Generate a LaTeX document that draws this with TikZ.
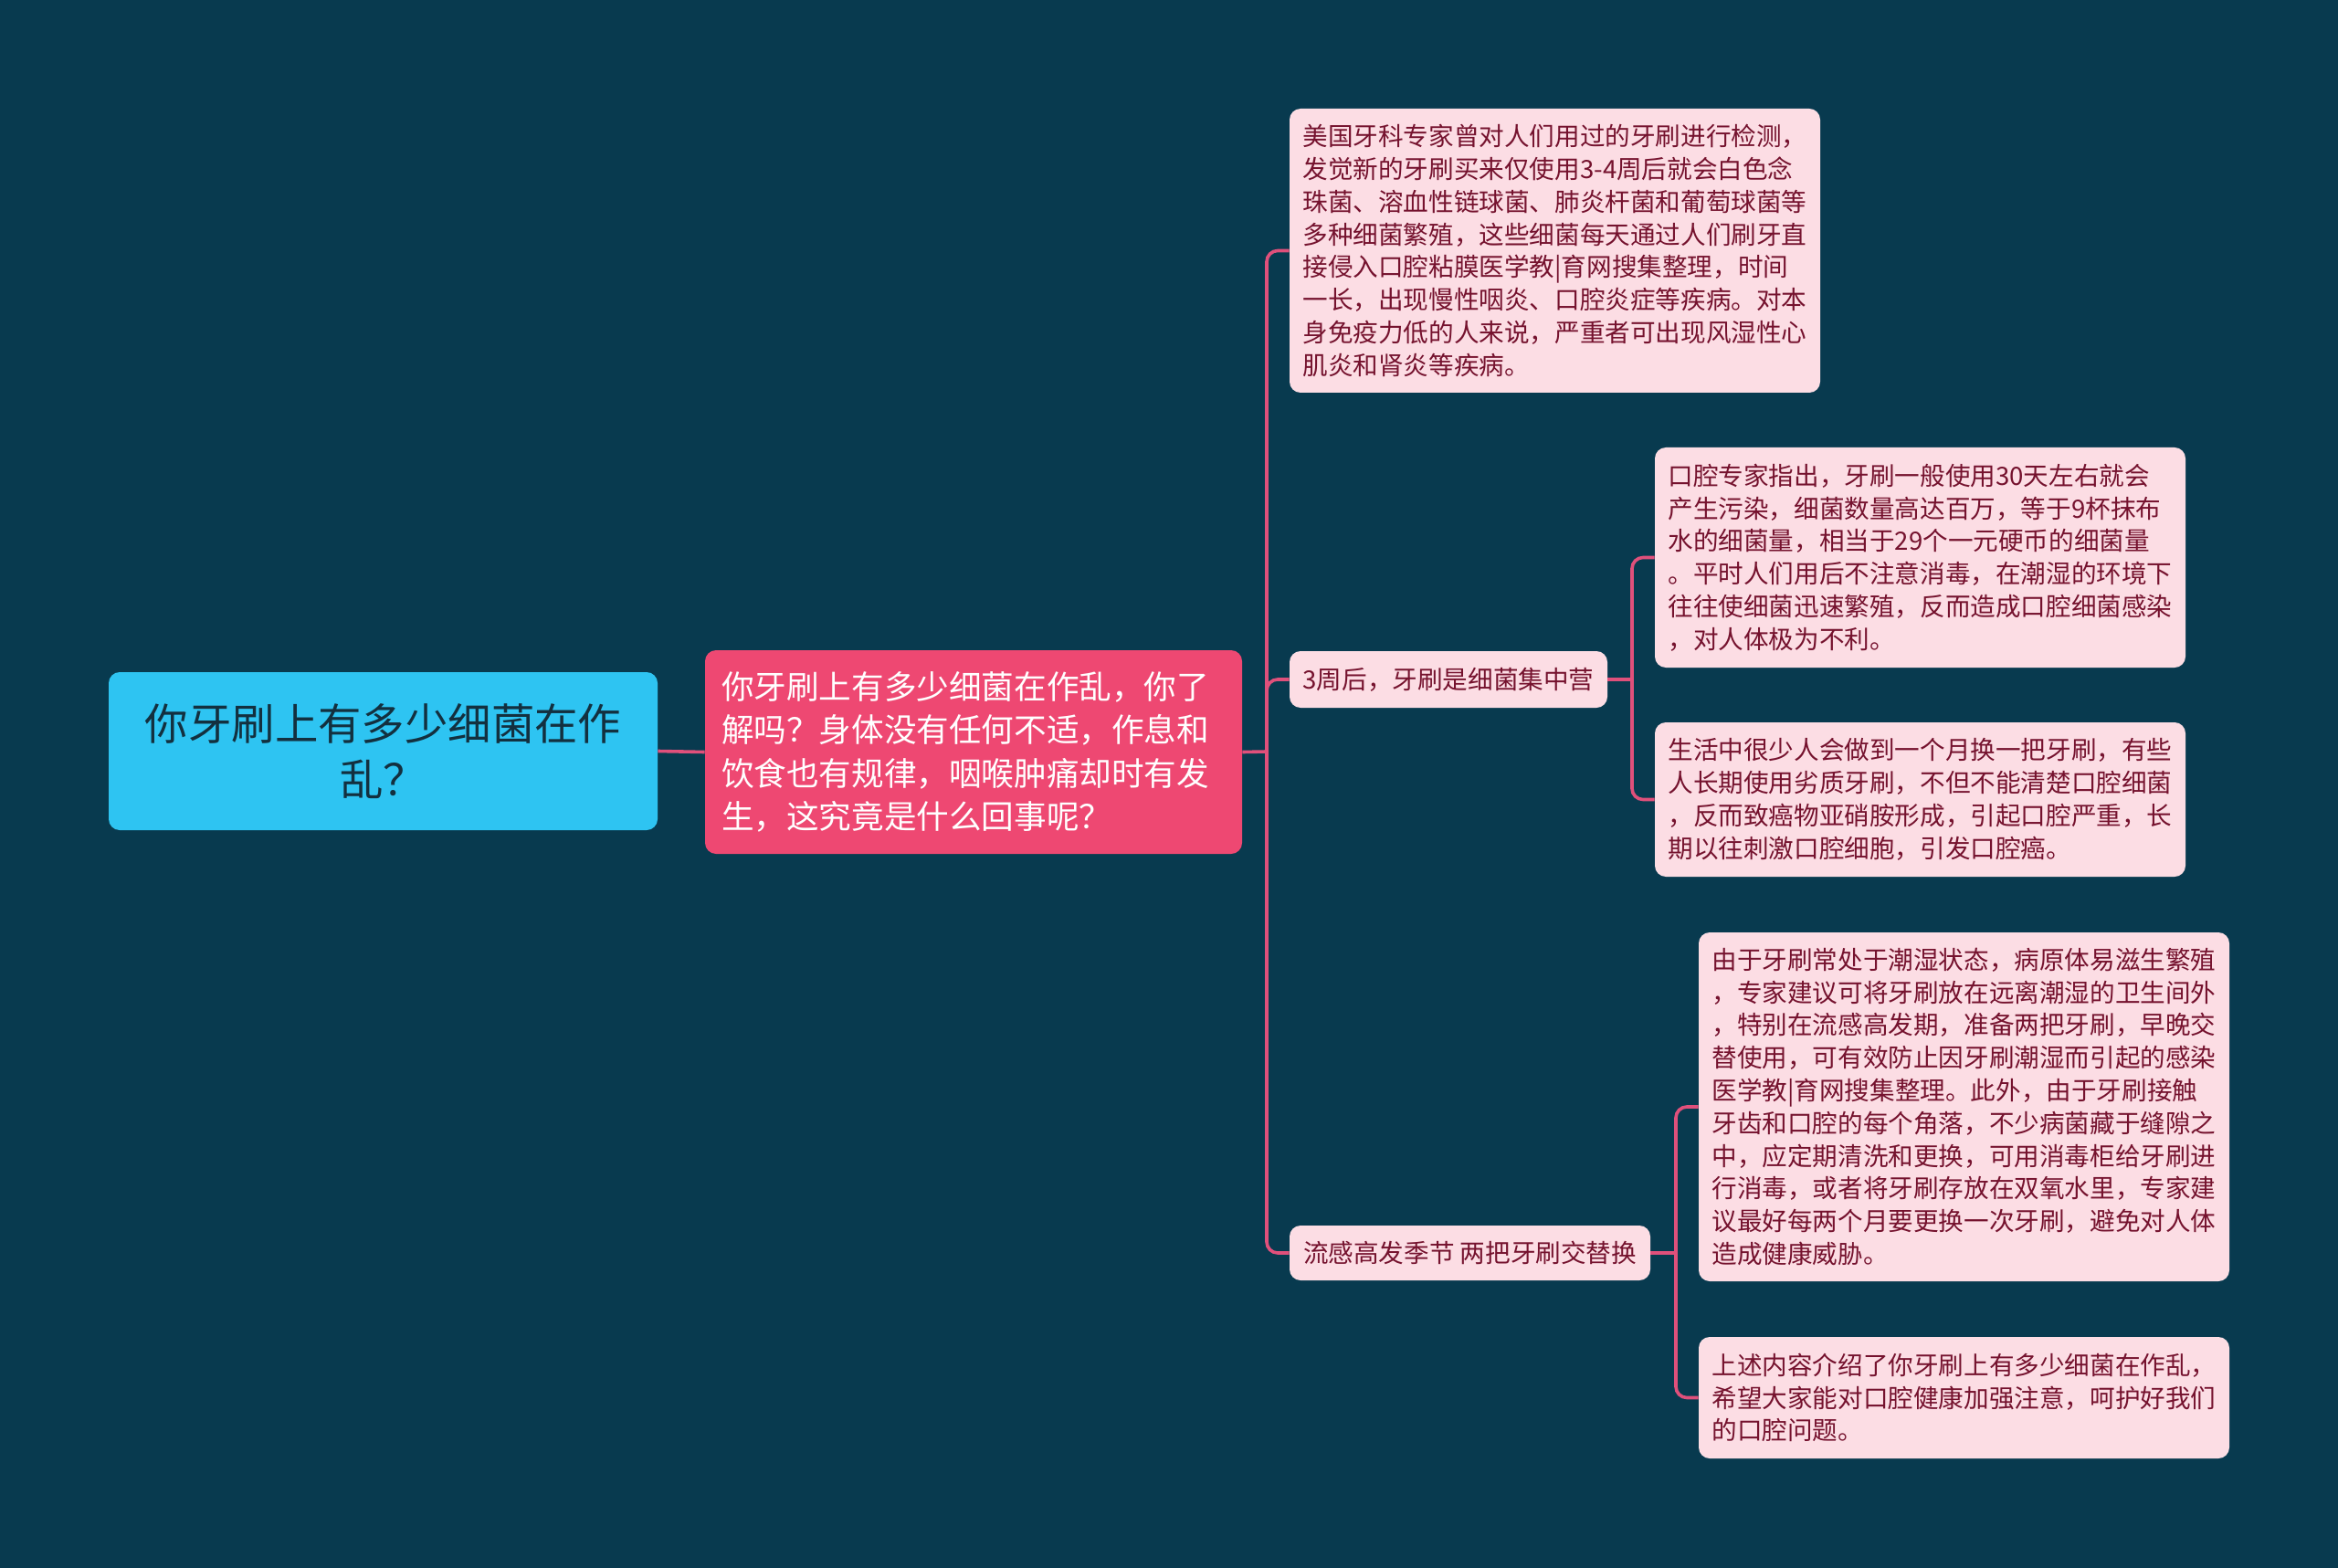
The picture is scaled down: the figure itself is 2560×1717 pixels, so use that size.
\documentclass[tikz,border=0pt]{standalone}
\usepackage{fontspec}
\newfontfamily\cjk{Noto Sans CJK SC}
\definecolor{bgc}{HTML}{083A4F}
\definecolor{rootfill}{HTML}{2EC4F2}
\definecolor{rootText}{HTML}{13303F}
\definecolor{midfill}{HTML}{EE4872}
\definecolor{childfill}{HTML}{FCDDE4}
\definecolor{childText}{HTML}{75122E}
\definecolor{linec}{HTML}{E0507B}
\tikzset{
  boxbase/.style={rounded corners=6pt, inner ysep=0pt, anchor=center},
  rootbox/.style={boxbase, fill=rootfill, text=rootText, align=center,
    font=\cjk\fontsize{23.7}{30.2}\selectfont, minimum width=300.5pt, minimum height=86.5pt},
  midbox/.style={boxbase, fill=midfill, text=white, align=left, inner xsep=9pt, text width=276pt,
    font=\cjk\fontsize{17.8}{23.65}\selectfont, minimum height=111.5pt},
  childbox/.style={boxbase, fill=childfill, text=childText, align=left, inner xsep=7.25pt, text width=276pt,
    font=\cjk\fontsize{13.8}{17.9}\selectfont},
  labelbox/.style={boxbase, fill=childfill, text=childText, align=center,
    font=\cjk\fontsize{13.8}{17.9}\selectfont},
  conn/.style={draw=linec, line width=1.8pt, rounded corners=6pt},
}
\begin{document}
\begin{tikzpicture}[x=0.5pt,y=-0.5pt]
\fill[bgc] (0,0) rectangle (2560,1717);
\useasboundingbox (0,0) rectangle (2560,1717);

\node[rootbox] (root) at (419.5,822.5) {你牙刷上有多少细菌在作\\乱？};
\node[midbox] (mid) at (1066,823.5) {你牙刷上有多少细菌在作乱，你了\\解吗？身体没有任何不适，作息和\\饮食也有规律，咽喉肿痛却时有发\\生，这究竟是什么回事呢？};

\node[childbox, minimum height=155.5pt] (n1) at (1702.5,274.5) {美国牙科专家曾对人们用过的牙刷进行检测，\\发觉新的牙刷买来仅使用3-4周后就会白色念\\珠菌、溶血性链球菌、肺炎杆菌和葡萄球菌等\\多种细菌繁殖，这些细菌每天通过人们刷牙直\\接侵入口腔粘膜医学教|育网搜集整理，时间\\一长，出现慢性咽炎、口腔炎症等疾病。对本\\身免疫力低的人来说，严重者可出现风湿性心\\肌炎和肾炎等疾病。};

\node[labelbox, minimum width=174pt, minimum height=31pt] (n2) at (1586,744) {3周后，牙刷是细菌集中营};
\node[labelbox, minimum width=197.5pt, minimum height=30pt] (n3) at (1609.5,1372) {流感高发季节 两把牙刷交替换};

\node[childbox, minimum height=120.5pt] (n21) at (2102.5,610.5) {口腔专家指出，牙刷一般使用30天左右就会\\产生污染，细菌数量高达百万，等于9杯抹布\\水的细菌量，相当于29个一元硬币的细菌量\\。平时人们用后不注意消毒，在潮湿的环境下\\往往使细菌迅速繁殖，反而造成口腔细菌感染\\，对人体极为不利。};
\node[childbox, minimum height=84.5pt] (n22) at (2102.5,875.5) {生活中很少人会做到一个月换一把牙刷，有些\\人长期使用劣质牙刷，不但不能清楚口腔细菌\\，反而致癌物亚硝胺形成，引起口腔严重，长\\期以往刺激口腔细胞，引发口腔癌。};

\node[childbox, minimum height=191pt] (n31) at (2150.5,1212) {由于牙刷常处于潮湿状态，病原体易滋生繁殖\\，专家建议可将牙刷放在远离潮湿的卫生间外\\，特别在流感高发期，准备两把牙刷，早晚交\\替使用，可有效防止因牙刷潮湿而引起的感染\\医学教|育网搜集整理。此外，由于牙刷接触\\牙齿和口腔的每个角落，不少病菌藏于缝隙之\\中，应定期清洗和更换，可用消毒柜给牙刷进\\行消毒，或者将牙刷存放在双氧水里，专家建\\议最好每两个月要更换一次牙刷，避免对人体\\造成健康威胁。};
\node[childbox, minimum height=66.5pt] (n32) at (2150.5,1530.5) {上述内容介绍了你牙刷上有多少细菌在作乱，\\希望大家能对口腔健康加强注意，呵护好我们\\的口腔问题。};

\coordinate (t1) at (1387,823);
\coordinate (t2) at (1787,744);
\coordinate (t3) at (1835,1372);

\draw[conn] (root.east) -- (mid.west);
\draw[conn] (mid.east) -- (t1);
\draw[conn] (t1) |- (n1.west);
\draw[conn] (t1) |- (n2.west);
\draw[conn] (t1) |- (n3.west);
\draw[conn] (n2.east) -- (t2);
\draw[conn] (t2) |- (n21.west);
\draw[conn] (t2) |- (n22.west);
\draw[conn] (n3.east) -- (t3);
\draw[conn] (t3) |- (n31.west);
\draw[conn] (t3) |- (n32.west);
\end{tikzpicture}
\end{document}
